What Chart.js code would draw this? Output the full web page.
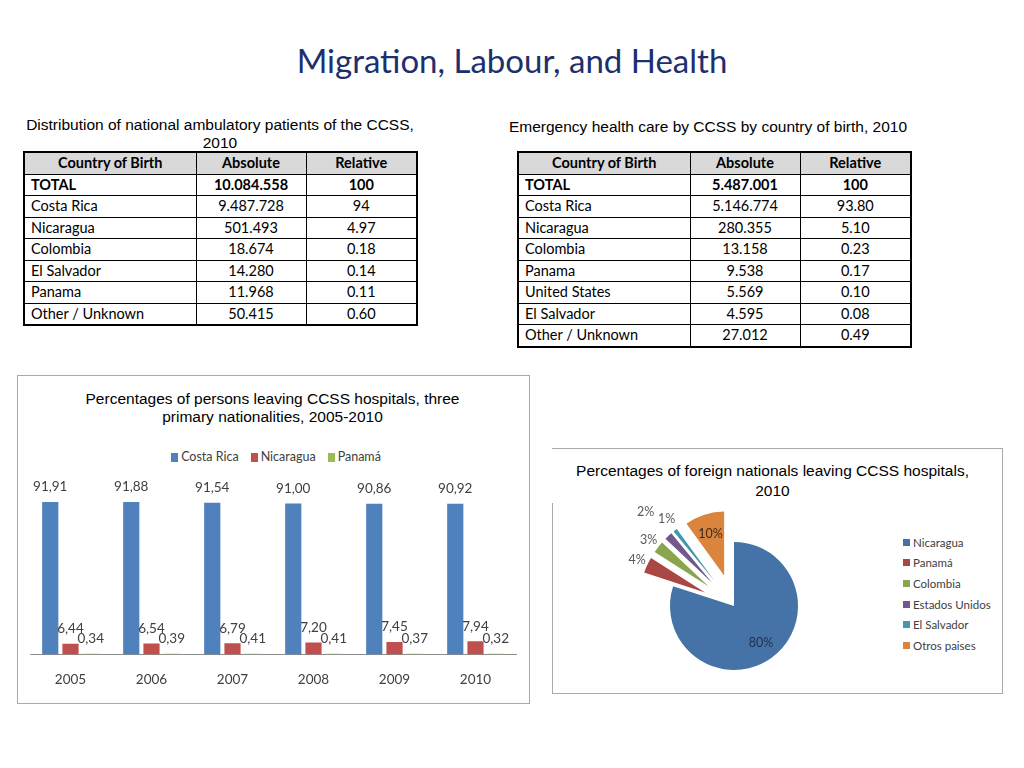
<!DOCTYPE html>
<html><head><meta charset="utf-8">
<script src="https://cdn.jsdelivr.net/npm/chart.js@4.4.0/dist/chart.umd.min.js"></script>
<style>
html,body{margin:0;padding:0;background:#fff;}
#page{position:relative;width:1024px;height:768px;overflow:hidden;font-family:"Liberation Sans",Arial,sans-serif;}
.abs{position:absolute;}
#title{left:0;top:37px;width:1024px;text-align:center;font-family:Lato,sans-serif;font-size:33px;color:#1c2f6e;line-height:46px;}
.ttl{position:absolute;font-size:15.5px;line-height:18px;text-align:center;color:#000;}
table.dt{position:absolute;border-collapse:collapse;table-layout:fixed;font-family:Lato,sans-serif;font-size:14.5px;color:#000;border:2px solid #000;}
table.dt td{border:1px solid #000;height:20.5px;padding:0;text-align:center;white-space:nowrap;line-height:16px;}
table.dt td.c0{text-align:left;padding-left:6px;}
table.dt tr.hd td{background:#d9d9d9;font-weight:bold;}
table.dt tr.tot td{font-weight:bold;}
.box{position:absolute;border:1px solid #a9a9a9;}
.leg{position:absolute;display:flex;font-family:Lato,sans-serif;font-size:12.5px;color:#404040;line-height:16px;}
.leg .it{display:flex;align-items:center;margin:0 6px;}
.leg .sw{width:7px;height:9px;margin-right:3px;}
.pleg{position:absolute;font-family:Lato,sans-serif;font-size:11.5px;color:#404040;}
.pleg .it{display:flex;align-items:center;height:20.6px;}
.pleg .sw{width:7px;height:7px;margin-right:3px;}
</style>
</head>
<body>
<div id="page">
  <div id="title" class="abs">Migration, Labour, and Health</div>

  <div class="ttl" style="left:5px;top:116px;width:430px;">Distribution of national ambulatory patients of the CCSS,<br>2010</div>
  <table class="dt" id="t1" style="left:23px;top:151px;"></table>

  <div class="ttl" style="left:490px;top:118px;width:436px;">Emergency health care by CCSS by country of birth, 2010</div>
  <table class="dt" id="t2" style="left:517px;top:151px;"></table>

  <div class="box" style="left:17px;top:375px;width:511px;height:327px;"></div>
  <div class="ttl" style="left:17px;top:390px;width:511px;">Percentages of persons leaving CCSS hospitals, three<br>primary nationalities, 2005-2010</div>
  <div class="leg" id="barLeg" style="left:20px;top:449px;width:512px;justify-content:center;"></div>
  <canvas id="bar" class="abs" width="510" height="248" style="left:18px;top:470px;"></canvas>

  <div class="box" style="left:552px;top:448px;width:450px;height:244px;border-left:none;"></div>
  <div class="abs" style="left:552px;top:503px;width:1px;height:190px;background:#a9a9a9;"></div>
  <div class="ttl" style="left:550px;top:461px;width:445px;line-height:20px;">Percentages of foreign nationals leaving CCSS hospitals,<br>2010</div>
  <canvas id="pie" class="abs" width="240" height="240" style="left:614px;top:486px;"></canvas>
  <div class="pleg" id="pieLeg" style="left:903px;top:532px;"></div>
</div>

<script>
// ---- Table data ----
const tableHeaders = ['Country of Birth', 'Absolute', 'Relative'];
const ambCountries = ['TOTAL', 'Costa Rica', 'Nicaragua', 'Colombia', 'El Salvador', 'Panama', 'Other / Unknown'];
const ambAbsolute  = ['10.084.558', '9.487.728', '501.493', '18.674', '14.280', '11.968', '50.415'];
const ambRelative  = ['100', '94', '4.97', '0.18', '0.14', '0.11', '0.60'];

const emCountries = ['TOTAL', 'Costa Rica', 'Nicaragua', 'Colombia', 'Panama', 'United States', 'El Salvador', 'Other / Unknown'];
const emAbsolute  = ['5.487.001', '5.146.774', '280.355', '13.158', '9.538', '5.569', '4.595', '27.012'];
const emRelative  = ['100', '93.80', '5.10', '0.23', '0.17', '0.10', '0.08', '0.49'];

// ---- Bar chart data ----
const years = ['2005', '2006', '2007', '2008', '2009', '2010'];
const barSeries = ['Costa Rica', 'Nicaragua', 'Panamá'];
const costaRica = [91.91, 91.88, 91.54, 91.00, 90.86, 90.92];
const nicaragua = [6.44, 6.54, 6.79, 7.20, 7.45, 7.94];
const panama    = [0.34, 0.39, 0.41, 0.41, 0.37, 0.32];

// ---- Pie chart data ----
const pieLabels = ['Nicaragua', 'Panamá', 'Colombia', 'Estados Unidos', 'El Salvador', 'Otros paises'];
const pieValues = [80, 4, 3, 2, 1, 10];

// ---- Styles ----
const barColors = ['#4f81bd', '#c0504d', '#9bbb59'];
const pieColors = ['#4572a7', '#aa4643', '#89a54e', '#71588f', '#4198af', '#db843d'];
const pieExplode = [0, 32, 32, 32, 32, 32];
const pieLabelDist = [46, 107, 108, 129, 110, 76];
const pieLabelColors = ['#1f2f4f', '#595959', '#595959', '#595959', '#595959', '#3a2a1a'];
const colWidths = [172, 110, 111];

function buildTable(id, countries, abs, rel) {
  const t = document.getElementById(id);
  const cg = document.createElement('colgroup');
  colWidths.forEach(w => { const c = document.createElement('col'); c.style.width = w + 'px'; cg.appendChild(c); });
  t.appendChild(cg);
  const hr = t.insertRow(); hr.className = 'hd';
  tableHeaders.forEach((h, i) => { const c = hr.insertCell(); c.textContent = h; });
  countries.forEach((name, r) => {
    const tr = t.insertRow();
    if (r === 0) tr.className = 'tot';
    [name, abs[r], rel[r]].forEach((v, i) => { const c = tr.insertCell(); c.textContent = v; if (i === 0) c.className = 'c0'; });
  });
}
buildTable('t1', ambCountries, ambAbsolute, ambRelative);
buildTable('t2', emCountries, emAbsolute, emRelative);

// legends
const bl = document.getElementById('barLeg');
barSeries.forEach((s, i) => {
  bl.insertAdjacentHTML('beforeend', `<div class="it"><div class="sw" style="background:${barColors[i]}"></div>${s}</div>`);
});
const pl = document.getElementById('pieLeg');
pieLabels.forEach((s, i) => {
  pl.insertAdjacentHTML('beforeend', `<div class="it"><div class="sw" style="background:${pieColors[i]}"></div>${s}</div>`);
});

const chartFont = 'Lato, sans-serif';

const barLabelPlugin = {
  id: 'barLabels',
  afterDatasetsDraw(chart) {
    const ctx = chart.ctx;
    ctx.save();
    ctx.font = '13.5px ' + chartFont;
    ctx.fillStyle = '#404040';
    ctx.textAlign = 'center';
    ctx.textBaseline = 'middle';
    chart.data.datasets.forEach((ds, di) => {
      const meta = chart.getDatasetMeta(di);
      meta.data.forEach((el, i) => {
        const txt = ds.data[i].toFixed(2).replace('.', ',');
        ctx.fillText(txt, el.x, el.y - 15);
      });
    });
    ctx.restore();
  }
};

new Chart(document.getElementById('bar'), {
  type: 'bar',
  data: {
    labels: years,
    datasets: [
      { label: barSeries[0], data: costaRica, backgroundColor: barColors[0] },
      { label: barSeries[1], data: nicaragua, backgroundColor: barColors[1] },
      { label: barSeries[2], data: panama, backgroundColor: barColors[2] }
    ]
  },
  options: {
    responsive: false,
    animation: false,
    categoryPercentage: 0.75,
    barPercentage: 0.8,
    layout: { padding: { left: 12, right: 12, top: 18.6, bottom: 13.4 } },
    plugins: { legend: { display: false }, tooltip: { enabled: false } },
    scales: {
      x: {
        grid: { display: false, drawTicks: false },
        border: { display: true, color: '#8c8c8c', width: 1 },
        ticks: { color: '#404040', font: { family: chartFont, size: 13.5 }, padding: 17 }
      },
      y: { display: false, min: 0, max: 100 }
    }
  },
  plugins: [barLabelPlugin]
});

const explodePlugin = {
  id: 'explode',
  beforeDatasetsDraw(chart) {
    const meta = chart.getDatasetMeta(0);
    meta.data.forEach((el, i) => {
      const d = pieExplode[i];
      if (!d || el._exploded) return;
      el._exploded = true;
      el.draw = function (ctx) {
        const mid = (this.startAngle + this.endAngle) / 2;
        ctx.save();
        ctx.translate(Math.cos(mid) * d, Math.sin(mid) * d);
        Chart.ArcElement.prototype.draw.call(this, ctx);
        ctx.restore();
      };
    });
  },
  afterDatasetsDraw(chart) {
    const ctx = chart.ctx;
    const meta = chart.getDatasetMeta(0);
    ctx.save();
    ctx.font = '12.5px Lato, sans-serif';
    ctx.textAlign = 'center';
    ctx.textBaseline = 'middle';
    meta.data.forEach((el, i) => {
      const mid = (el.startAngle + el.endAngle) / 2;
      const r = pieLabelDist[i];
      ctx.fillStyle = pieLabelColors[i];
      ctx.fillText(pieValues[i] + '%', el.x + Math.cos(mid) * r, el.y + Math.sin(mid) * r);
    });
    ctx.restore();
  }
};

new Chart(document.getElementById('pie'), {
  type: 'pie',
  data: {
    labels: pieLabels,
    datasets: [{ data: pieValues, backgroundColor: pieColors, borderWidth: 0, clip: false }]
  },
  options: {
    responsive: false,
    animation: false,
    radius: 64,
    layout: { padding: 0 },
    plugins: { legend: { display: false }, tooltip: { enabled: false } }
  },
  plugins: [explodePlugin]
});
</script>
</body></html>
